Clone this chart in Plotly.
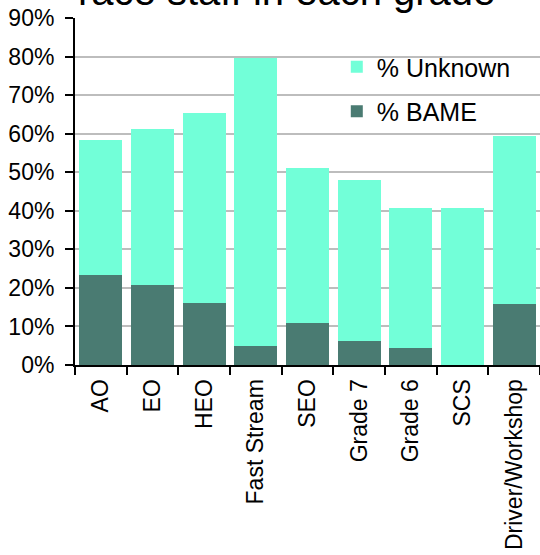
import plotly.graph_objects as go

categories = ["AO", "EO", "HEO", "Fast Stream", "SEO", "Grade 7", "Grade 6", "SCS", "Driver/Workshop"]
bame = [23.3, 20.7, 16.0, 4.9, 10.9, 6.2, 4.5, 0.0, 15.9]
total = [58.3, 61.1, 65.3, 79.5, 51.0, 47.9, 40.7, 40.7, 59.3]
unknown = [round(t - b, 1) for t, b in zip(total, bame)]
y_ticks = [0, 10, 20, 30, 40, 50, 60, 70, 80, 90]
y_tick_labels = [f"{v}%" for v in y_ticks]

FONT = "Liberation Sans, Arial, sans-serif"

fig = go.Figure()
fig.add_trace(go.Bar(x=categories, y=bame, name="% BAME", legendgroup="b", legendrank=2,
                     marker=dict(color="#4a7b72", line=dict(width=0))))
fig.add_trace(go.Bar(x=categories, y=unknown, name="% Unknown", legendgroup="u", legendrank=1,
                     marker=dict(color="#72ffd8", line=dict(width=0))))

fig.update_layout(
    width=540, height=555,
    barmode="stack", bargap=0.17,
    margin=dict(l=75, r=0, t=18, b=190),
    paper_bgcolor="white", plot_bgcolor="white",
    font=dict(family=FONT, color="black", size=22),
    showlegend=True,
    legend=dict(x=0.563, y=0.925, xanchor="left", yanchor="top", traceorder="grouped",
                bgcolor="rgba(0,0,0,0)", font=dict(size=25), itemwidth=30, tracegroupgap=9),
    annotations=[dict(text="race staff in each grade", xref="paper", yref="paper", x=0.454, y=1,
                      xanchor="center", yanchor="bottom", yshift=3, showarrow=False,
                      font=dict(size=40, family=FONT, color="black"))],
)
fig.update_yaxes(range=[0, 90], tickvals=y_ticks, ticktext=y_tick_labels, showgrid=True,
                 gridcolor="#bdbdbd", gridwidth=1.5, showline=True, linecolor="black", linewidth=2,
                 ticks="outside", ticklen=8, tickcolor="black", tickwidth=2, zeroline=False,
                 automargin=False, ticklabelstandoff=6, ticklabeloverflow="allow",
                 tickfont=dict(size=23))
fig.update_xaxes(tickangle=-90, showline=True, linecolor="black", linewidth=2, ticks="outside",
                 tickson="boundaries", ticklen=8, tickcolor="black", tickwidth=2, range=[-0.5, 8.5],
                 automargin=False, ticklabelstandoff=3, ticklabeloverflow="allow",
                 tickfont=dict(size=23))

fig.write_html("out.html", config={"displayModeBar": False},
               post_script="document.body.style.margin='0px';")
